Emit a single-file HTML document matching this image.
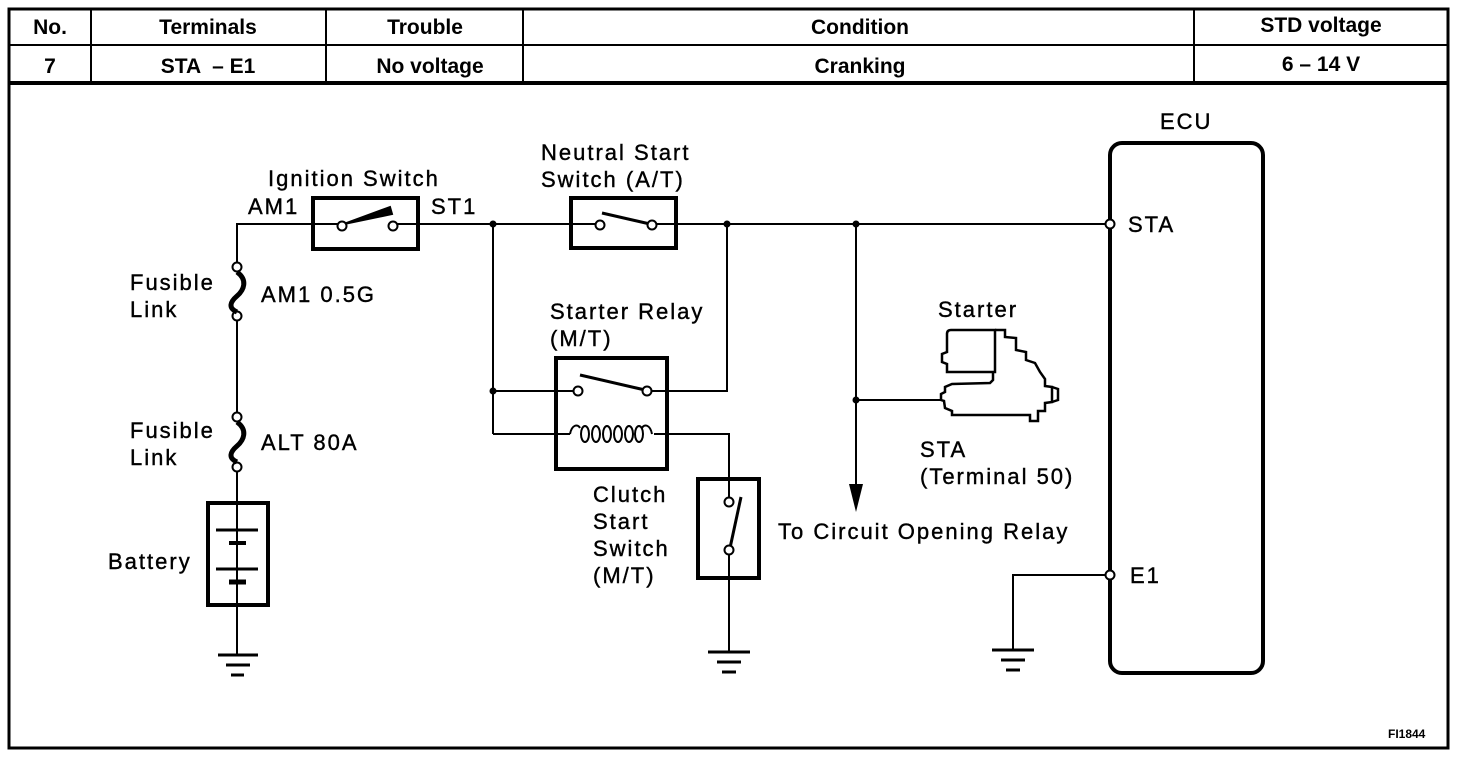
<!DOCTYPE html>
<html><head><meta charset="utf-8"><style>
html,body{margin:0;padding:0;background:#fff;}
svg{display:block;}
text{font-family:"Liberation Sans",sans-serif;fill:#000;}
.t{font-weight:bold;font-size:21px;}
.l{font-size:22px;letter-spacing:2px;stroke:#000;stroke-width:0.4px;}
</style></head><body>
<svg width="1472" height="758" viewBox="0 0 1472 758" xmlns="http://www.w3.org/2000/svg">
<g fill="none" stroke="#000">
<rect x="9" y="9" width="1439" height="739" stroke-width="3"/>
<line x1="9" y1="45" x2="1448" y2="45" stroke-width="2"/>
<line x1="9" y1="83" x2="1448" y2="83" stroke-width="4"/>
<line x1="91" y1="9" x2="91" y2="83" stroke-width="2"/>
<line x1="326" y1="9" x2="326" y2="83" stroke-width="2"/>
<line x1="523" y1="9" x2="523" y2="83" stroke-width="2"/>
<line x1="1194" y1="9" x2="1194" y2="83" stroke-width="2"/>

<g stroke-width="2">
<polyline points="1107,224 237,224 237,263"/>
<line x1="237" y1="320" x2="237" y2="413"/>
<line x1="237" y1="471" x2="237" y2="655"/>
<line x1="493" y1="224" x2="493" y2="434"/>
<line x1="493" y1="391" x2="574" y2="391"/>
<polyline points="651,391 727,391 727,224"/>
<polyline points="493,434 572,434"/>
<polyline points="652,434 729,434 729,498"/>
<line x1="729" y1="554" x2="729" y2="652"/>
<line x1="856" y1="224" x2="856" y2="488"/>
<line x1="856" y1="400" x2="941" y2="400"/>
<polyline points="1107,575 1013,575 1013,650"/>
</g>
<g stroke-width="2">
<circle cx="237" cy="267" r="4.5" fill="#fff"/>
<circle cx="237" cy="316" r="4.5" fill="#fff"/>
<circle cx="237" cy="417" r="4.5" fill="#fff"/>
<circle cx="237" cy="467" r="4.5" fill="#fff"/>
</g>
<path d="M237,272 C248,280 244,290 237,296 C230,302 228,308 237,312" stroke-width="5"/>
<path d="M237,422 C248,430 244,440 237,446 C230,452 228,458 237,462" stroke-width="5"/>
<rect x="208" y="503" width="60" height="102" stroke-width="4"/>
<line x1="216" y1="530" x2="258" y2="530" stroke-width="3"/>
<line x1="229" y1="543" x2="246" y2="543" stroke-width="4"/>
<line x1="237" y1="550" x2="237" y2="556" stroke-width="2"/>
<line x1="216" y1="569" x2="258" y2="569" stroke-width="3"/>
<line x1="229" y1="582" x2="246" y2="582" stroke-width="5"/>
<g stroke-width="3">
<line x1="218" y1="655" x2="258" y2="655"/><line x1="226" y1="665" x2="250" y2="665"/><line x1="231" y1="675" x2="244" y2="675"/>
<line x1="708" y1="652" x2="750" y2="652"/><line x1="717" y1="662" x2="741" y2="662"/><line x1="722" y1="672" x2="736" y2="672"/>
<line x1="992" y1="650" x2="1034" y2="650"/><line x1="1001" y1="660" x2="1025" y2="660"/><line x1="1006" y1="670" x2="1020" y2="670"/>
</g>
<rect x="313" y="198" width="105" height="51" stroke-width="4" fill="#fff"/>
<line x1="313" y1="224" x2="338" y2="224" stroke-width="2"/>
<line x1="397" y1="224" x2="418" y2="224" stroke-width="2"/>
<polygon points="344,224 390,207 392,214" fill="#000" stroke-width="2"/>
<circle cx="342" cy="226" r="4.5" fill="#fff" stroke-width="2"/>
<circle cx="393" cy="226" r="4.5" fill="#fff" stroke-width="2"/>
<rect x="571" y="198" width="105" height="50" stroke-width="4" fill="#fff"/>
<line x1="571" y1="224" x2="596" y2="224" stroke-width="2"/>
<line x1="656" y1="224" x2="676" y2="224" stroke-width="2"/>
<line x1="602" y1="213" x2="650" y2="224" stroke-width="3"/>
<circle cx="600" cy="225" r="4.5" fill="#fff" stroke-width="2"/>
<circle cx="652" cy="225" r="4.5" fill="#fff" stroke-width="2"/>
<rect x="556" y="358" width="111" height="111" stroke-width="4" fill="#fff"/>
<line x1="556" y1="391" x2="574" y2="391" stroke-width="2"/>
<line x1="651" y1="391" x2="667" y2="391" stroke-width="2"/>
<line x1="580" y1="375" x2="645" y2="390" stroke-width="3"/>
<circle cx="578" cy="391" r="4.5" fill="#fff" stroke-width="2"/>
<circle cx="647" cy="391" r="4.5" fill="#fff" stroke-width="2"/>
<line x1="556" y1="434" x2="570" y2="434" stroke-width="2"/>
<line x1="654" y1="434" x2="667" y2="434" stroke-width="2"/>
<path d="M570,434 C572,424 578,424 580,428 M652,434 C650,424 644,424 642,428" stroke-width="2"/>
<g stroke-width="2">
<ellipse cx="585" cy="434" rx="4" ry="8"/><ellipse cx="596" cy="434" rx="4" ry="8"/><ellipse cx="607" cy="434" rx="4" ry="8"/><ellipse cx="618" cy="434" rx="4" ry="8"/><ellipse cx="629" cy="434" rx="4" ry="8"/><ellipse cx="639" cy="434" rx="4" ry="8"/>
</g>
<rect x="698" y="479" width="61" height="99" stroke-width="4" fill="#fff"/>
<line x1="729" y1="479" x2="729" y2="498" stroke-width="2"/>
<line x1="729" y1="554" x2="729" y2="578" stroke-width="2"/>
<line x1="730" y1="548" x2="741" y2="497" stroke-width="3"/>
<circle cx="729" cy="502" r="4.5" fill="#fff" stroke-width="2"/>
<circle cx="729" cy="550" r="4.5" fill="#fff" stroke-width="2"/>
<g fill="#000" stroke="none">
<circle cx="493" cy="224" r="3.5"/><circle cx="493" cy="391" r="3.5"/><circle cx="727" cy="224" r="3.5"/><circle cx="856" cy="224" r="3.5"/><circle cx="856" cy="400" r="3.5"/>
<polygon points="849,484 863,484 856,512"/>
</g>
<!-- starter motor -->
<g stroke-width="2.5">
<path d="M947,343 L947,352 L942,354 L942,362 L947,364 L947,372 L995,372 L995,330 L951,330 Q947,330 947,334 Z"/>
<path d="M995,330 L1005,330 L1005,337 L1016,338 L1016,350 L1026,352 L1026,360 L1035,363 L1040,372 L1045,379 L1045,386 L1052,387 L1052,402 L1045,403 L1045,411 L1038,411 L1038,421 L1030,421 L1030,415 L952,415 L952,411 L945,408 L944,401 L941,400 L941,394 L945,392 L945,387 L952,384 L990,383 L993,380 L993,372"/>
<path d="M1052,387 L1058,389 L1058,400 L1052,402"/>
</g>
<rect x="1110" y="143" width="153" height="530" rx="12" stroke-width="4"/>
<circle cx="1110" cy="224" r="4.5" fill="#fff" stroke-width="2"/>
<circle cx="1110" cy="575" r="4.5" fill="#fff" stroke-width="2"/>
</g>

<g class="t" text-anchor="middle">
<text x="50" y="34">No.</text>
<text x="208" y="34">Terminals</text>
<text x="425" y="34">Trouble</text>
<text x="860" y="34">Condition</text>
<text x="1321" y="32">STD voltage</text>
<text x="50" y="73">7</text>
<text x="208" y="73" xml:space="preserve">STA  – E1</text>
<text x="430" y="73">No voltage</text>
<text x="860" y="73">Cranking</text>
<text x="1321" y="71">6 – 14 V</text>
</g>
<g class="l">
<text x="268" y="186">Ignition Switch</text>
<text x="248" y="214">AM1</text>
<text x="431" y="214">ST1</text>
<text x="541" y="160">Neutral Start</text>
<text x="541" y="187">Switch (A/T)</text>
<text x="130" y="290">Fusible</text>
<text x="130" y="317">Link</text>
<text x="261" y="302">AM1 0.5G</text>
<text x="130" y="438">Fusible</text>
<text x="130" y="465">Link</text>
<text x="261" y="450">ALT 80A</text>
<text x="108" y="569">Battery</text>
<text x="550" y="319">Starter Relay</text>
<text x="550" y="346">(M/T)</text>
<text x="593" y="502">Clutch</text>
<text x="593" y="529">Start</text>
<text x="593" y="556">Switch</text>
<text x="593" y="583">(M/T)</text>
<text x="938" y="317">Starter</text>
<text x="920" y="457">STA</text>
<text x="920" y="484">(Terminal 50)</text>
<text x="778" y="539">To Circuit Opening Relay</text>
<text x="1160" y="129">ECU</text>
<text x="1128" y="232">STA</text>
<text x="1130" y="583">E1</text>
</g>
<text x="1388" y="738" style="font-size:12px;font-weight:bold">FI1844</text>
</svg>
</body></html>
